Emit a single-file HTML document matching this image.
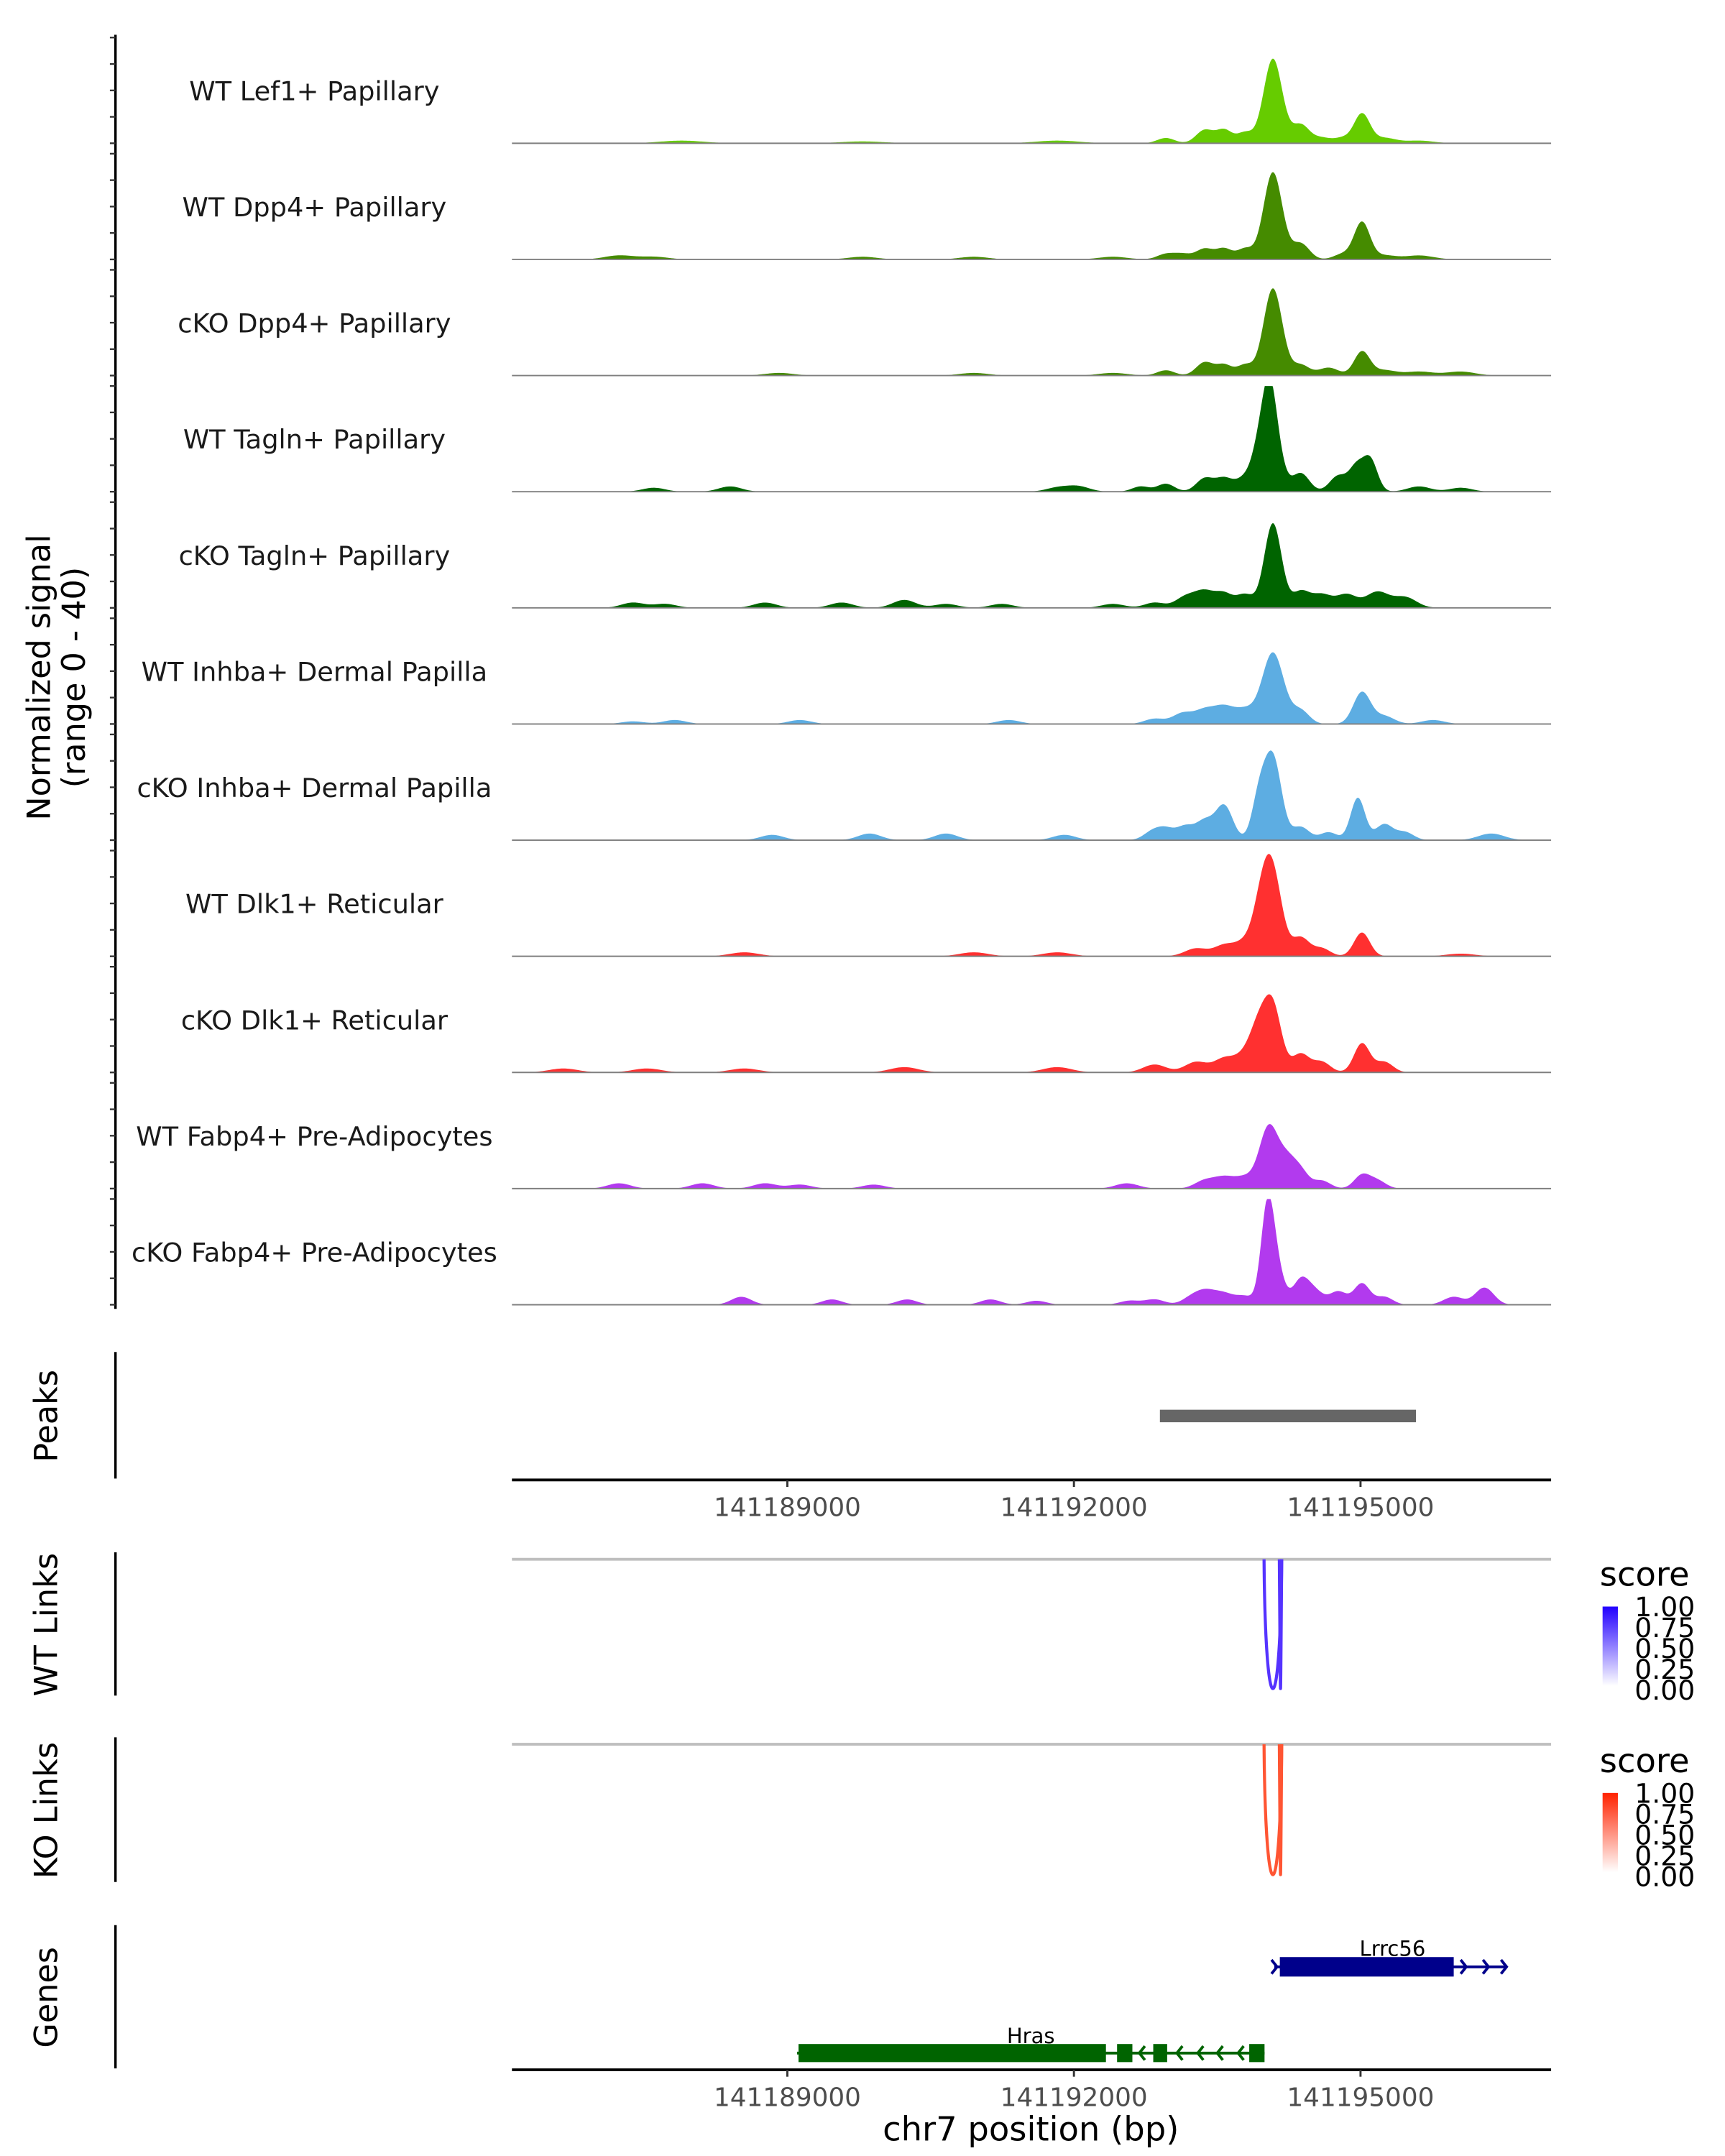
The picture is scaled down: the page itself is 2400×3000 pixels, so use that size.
<!DOCTYPE html>
<html><head><meta charset="utf-8">
<style>html,body{margin:0;padding:0;background:#fff}svg{display:block;font-family:"DejaVu Sans","Liberation Sans",sans-serif}</style>
</head><body>
<svg id="chart" width="2400" height="3000" viewBox="0 0 1240 1550" xmlns="http://www.w3.org/2000/svg">
<rect width="1240" height="1550" fill="#fff"/>
<g id="tracks"></g>
<g id="ticks"></g>
<text transform="translate(44,487) rotate(-90)" text-anchor="middle" font-size="23" fill="#000"><tspan x="0" dy="-8">Normalized signal</tspan><tspan x="0" dy="25">(range 0 - 40)</tspan></text>
<g id="peaks"></g>
<g id="links"></g>
<g id="genes"></g>
</svg>
<script>
const NS="http://www.w3.org/2000/svg";
// ---- data ----
const domainStart=141186117, domainEnd=141196995;
const xTicks=[141189000,141192000,141195000];
const trackNames=["WT Lef1+ Papillary","WT Dpp4+ Papillary","cKO Dpp4+ Papillary","WT Tagln+ Papillary","cKO Tagln+ Papillary","WT Inhba+ Dermal Papilla","cKO Inhba+ Dermal Papilla","WT Dlk1+ Reticular","cKO Dlk1+ Reticular","WT Fabp4+ Pre-Adipocytes","cKO Fabp4+ Pre-Adipocytes"];
const trackColors=["#66cc00","#458b00","#458b00","#006400","#006400","#5dade2","#5dade2","#ff3030","#ff3030","#b23aee","#b23aee"];
// peak positions (bp), heights (0-40), widths (bp)
const peakPos=[
 [141194083,141194374,141195015,141193369,141193573,141193791,141192962,141194593,141194811,141195248,141195612,141187894,141191826,141189787],
 [141194083,141194374,141195015,141193369,141193573,141193791,141192962,141193137,141194811,141195248,141195612,141187238,141187602,141189787,141190952,141192408],
 [141194083,141194374,141195015,141193369,141193573,141193791,141192962,141194666,141195248,141195612,141196049,141190952,141188913,141192408],
 [141194083,141193937,141194039,141194374,141194767,141194957,141195102,141193369,141193573,141193791,141192962,141192699,141195612,141196049,141187602,141188401,141191826,141192044],
 [141194083,141194374,141194593,141194855,141195175,141195466,141193369,141193573,141193791,141193166,141192845,141187384,141187719,141188767,141189568,141190224,141190661,141191244,141192408],
 [141194083,141194374,141195015,141195248,141193369,141193573,141193791,141193137,141192845,141195758,141191317,141189131,141187821,141187384],
 [141194083,141193937,141194374,141194666,141194972,141195248,141195466,141193573,141193369,141193166,141192962,141192816,141188840,141189860,141190661,141191899,141196369],
 [141194083,141193966,141194374,141194593,141195015,141193282,141193573,141193791,141190952,141191826,141188549,141196049],
 [141194083,141193937,141194374,141194593,141195015,141195248,141193282,141193573,141193791,141192845,141191826,141190224,141188549,141187530,141186656],
 [141194039,141194229,141194374,141194593,141195015,141195175,141193369,141193573,141193791,141192554,141187238,141188112,141188767,141189131,141189903],
 [141194024,141194112,141194374,141194520,141194767,141195015,141195248,141193369,141193573,141193791,141193209,141195976,141196267,141196340,141188518,141189466,141190253,141191127,141191608,141192583,141192845]
];
const peakH=[
 [32,7,11,5,5,4,2,2,2,2,1,1,1,0.7],
 [33,6,14,4,4,4,2,2,2,1.5,1.5,1.5,1,1,1,1],
 [33,4,9,5,4,4,2,3,2,1.5,1.5,1,1,1],
 [23,14,18,7,6,9,12,5,5,5,3,2,2,1.5,1.5,2,1.5,2],
 [32,6,5,5,6,4,6,5,5,4,2,2,1.5,2,2,3,1.5,1.5,1.5],
 [27,5,12,3,5,6,5,4,2,1.5,1.5,1.5,1.5,1],
 [31,15,5,3,16,6,3,13,7,5,4,3,2,2.5,2.5,2,2.5],
 [29,17,7,3,9,3,4,5,1.5,1.5,1.5,1],
 [24,15,7,4,11,4,4,5,6,3,2,2,1.5,1.5,1.5],
 [23,10,6,3,5,3,3,4,4,2,2,2,2,1.5,1.5],
 [33,14,9,5,5,8,3,5,4,3,2,3,4,3,3,2,2,2,1.5,1.5,2]
];
const peakW=[
 [65,60,55,60,55,55,60,60,60,80,100,150,150,150],
 [65,60,55,60,55,55,60,60,60,80,100,100,100,100,100,100],
 [65,60,55,60,55,55,60,70,80,100,100,100,100,100],
 [60,50,45,60,60,50,50,60,60,60,60,60,80,80,80,80,80,80],
 [60,60,70,70,80,80,70,60,60,70,70,80,80,80,80,80,80,80,80],
 [75,60,60,70,70,70,70,70,70,80,80,80,80,80],
 [60,50,60,60,50,60,60,60,60,60,60,60,80,80,80,80,90],
 [65,60,60,60,55,80,70,70,100,100,100,100],
 [60,60,60,60,55,60,80,70,70,80,100,100,100,100,100],
 [65,60,55,60,55,60,70,70,70,80,80,80,80,80,80],
 [45,55,55,60,60,55,60,70,70,60,60,70,60,60,70,70,70,70,70,70,70]
];
const widthScale=1.5;
const peakRegion=[141192900,141195580];
const wtLinks=[[141193990,141194175],[141194150,141194175]];
const koLinks=[[141193990,141194175],[141194150,141194175]];
const legendTicks=["1.00","0.75","0.50","0.25","0.00"];

// ---- scales ----
const X0=368,X1=1115;
function x(bp){return X0+(bp-domainStart)/(domainEnd-domainStart)*(X1-X0);}
const baselines=[103,186.5,270,353.5,437,520.5,604,687.5,771,854.5,938];
function y(v,i){return baselines[i]-v*1.9;}
function mk(tag,attrs,parent){const e=document.createElementNS(NS,tag);for(const k in attrs)e.setAttribute(k,attrs[k]);parent.appendChild(e);return e;}

const gT=document.getElementById('tracks');
trackNames.forEach((name,i)=>{
  const g=mk('g',{},gT);
  
  
  let d='M'+X0+','+baselines[i];
  const N=900;
  for(let k=0;k<=N;k++){
    const bp=domainStart+(domainEnd-domainStart)*k/N;
    let v=0;
    peakPos[i].forEach((p,j)=>{const w=peakW[i][j]*widthScale;const z=(bp-p)/w;v+=peakH[i][j]*Math.exp(-0.5*z*z);});
    v=Math.min(v,40);
    d+=' L'+x(bp).toFixed(2)+','+y(v,i).toFixed(2);
  }
  d+=' L'+X1+','+baselines[i]+' Z';
  const p=mk('path',{d:d,fill:trackColors[i]},g);
  
  
  const bl=mk('line',{x1:X0,x2:X1,y1:baselines[i],y2:baselines[i],stroke:'#7f7f7f','stroke-width':1},g);
  
  
  const t=mk('text',{x:226,y:baselines[i]-31,'text-anchor':'middle','font-size':19,fill:'#1a1a1a'},g);
  t.textContent=name;
  
  
});
// y axis
const gY=document.getElementById('ticks');
mk('line',{x1:83,x2:83,y1:25,y2:941,stroke:'#000','stroke-width':1.8},gY);
baselines.forEach((b,i)=>{for(let v=0;v<=40;v+=10){mk('line',{x1:79,x2:83,y1:y(v,i),y2:y(v,i),stroke:'#333','stroke-width':1.2},gY);}});

// peaks
const gP=document.getElementById('peaks');
mk('line',{x1:83,x2:83,y1:972,y2:1063,stroke:'#000','stroke-width':1.8},gP);
let tl=mk('text',{transform:'translate(41,1018) rotate(-90)','text-anchor':'middle','font-size':23},gP);tl.textContent='Peaks';

const pr=mk('rect',{x:x(peakRegion[0]),y:1013.5,width:x(peakRegion[1])-x(peakRegion[0]),height:9,fill:'#666'},gP);

function xAxis(yy,parent){
  mk('line',{x1:X0,x2:X1,y1:yy,y2:yy,stroke:'#000','stroke-width':2},parent);
  xTicks.forEach(t=>{
    mk('line',{x1:x(t),x2:x(t),y1:yy,y2:yy+5,stroke:'#333','stroke-width':1.5},parent);
    const tx=mk('text',{x:x(t),y:yy+26,'text-anchor':'middle','font-size':18.5,fill:'#4d4d4d'},parent);
    tx.textContent=t;
    
    
  });
}
xAxis(1064,gP);

// links
const gL=document.getElementById('links');
function linkTrack(top,bottom,label,links,col,legendTop,grad){
  mk('line',{x1:83,x2:83,y1:top-5,y2:bottom+4,stroke:'#000','stroke-width':1.8},gL);
  const t=mk('text',{transform:'translate(41,'+((top+bottom)/2)+') rotate(-90)','text-anchor':'middle','font-size':23},gL);
  t.textContent=label;
  
  
  mk('line',{x1:X0,x2:X1,y1:top,y2:top,stroke:'#bebebe','stroke-width':2},gL);
  links.forEach(l=>{
    const a=x(l[0]),b=x(l[1]);
    const p=mk('path',{d:`M${a},${top} C${a+1},${bottom+30} ${b-1},${bottom+30} ${b},${top}`,fill:'none',stroke:col,'stroke-width':2.2},gL);
    
    
  });
  const s=mk('text',{x:1150,y:legendTop,'font-size':24},gL);s.textContent='score';
  
  const r=mk('rect',{x:1152,y:legendTop+15,width:11,height:57,fill:'url(#'+grad+')'},gL);
  
  legendTicks.forEach((lt,k)=>{
    const yy=legendTop+15+k*15;
    const e=mk('text',{x:1175,y:yy+7,'font-size':19.5},gL);e.textContent=lt;
    
  });
}
const defs=mk('defs',{},document.getElementById('chart'));
defs.innerHTML='<linearGradient id="gb" x1="0" y1="0" x2="0" y2="1"><stop offset="0" stop-color="#2200ff"/><stop offset="1" stop-color="#fff"/></linearGradient><linearGradient id="gr" x1="0" y1="0" x2="0" y2="1"><stop offset="0" stop-color="#ff2200"/><stop offset="1" stop-color="#fff"/></linearGradient>';
linkTrack(1121,1215,'WT Links',wtLinks,'#5533ff',1140,'gb');
linkTrack(1254,1349,'KO Links',koLinks,'#ff5533',1274,'gr');

// genes
const gG=document.getElementById('genes');
mk('line',{x1:83,x2:83,y1:1384,y2:1487,stroke:'#000','stroke-width':1.8},gG);
let gl=mk('text',{transform:'translate(41,1436) rotate(-90)','text-anchor':'middle','font-size':23},gG);gl.textContent='Genes';

// Lrrc56
mk('line',{x1:916,x2:1082,y1:1414,y2:1414,stroke:'#00008b','stroke-width':2},gG);
const lr=mk('rect',{x:920,y:1407,width:125,height:14,fill:'#00008b'},gG);

[918,1054,1070,1083].forEach(a=>mk('path',{d:`M${a-4},${1409} L${a},1414 L${a-4},1419`,fill:'none',stroke:'#00008b','stroke-width':2},gG));
let lt2=mk('text',{x:1001,y:1406,'text-anchor':'middle','font-size':15},gG);lt2.textContent='Lrrc56';
// Hras
mk('line',{x1:573,x2:909,y1:1476,y2:1476,stroke:'#006400','stroke-width':2},gG);
const hr=mk('rect',{x:574,y:1469.5,width:221,height:13,fill:'#006400'},gG);

[[803,11],[829,10],[898,11]].forEach(b=>mk('rect',{x:b[0],y:1469.5,width:b[1],height:13,fill:'#006400'},gG));
[819,846,861,875,890].forEach(a=>mk('path',{d:`M${a+4},1471 L${a},1476 L${a+4},1481`,fill:'none',stroke:'#006400','stroke-width':2},gG));
let ht=mk('text',{x:741,y:1469,'text-anchor':'middle','font-size':15},gG);ht.textContent='Hras';
xAxis(1488,gG);
const xt=mk('text',{x:741,y:1539,'text-anchor':'middle','font-size':24},gG);xt.textContent='chr7 position (bp)';

</script>
</body></html>
